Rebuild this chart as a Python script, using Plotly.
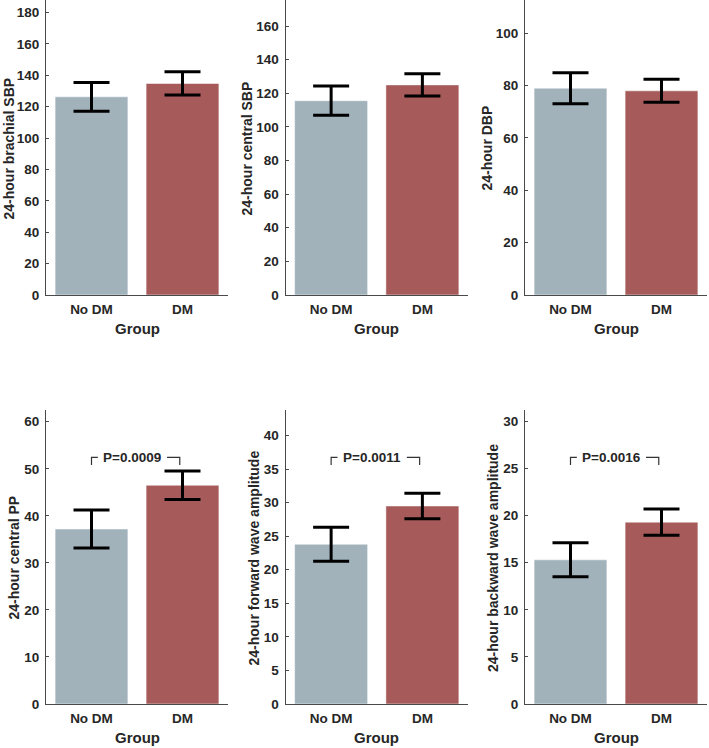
import plotly.graph_objects as go

# ---- data ----
groups = ["No DM", "DM"]
ylabels = ["24-hour brachial SBP", "24-hour central SBP", "24-hour DBP",
           "24-hour central PP", "24-hour forward wave amplitude",
           "24-hour backward wave amplitude"]
means_nodm = [126.3, 115.6, 79.0, 37.2, 23.8, 15.3]
means_dm = [134.8, 125.0, 78.0, 46.5, 29.5, 19.3]
err_nodm = [9.2, 8.7, 5.9, 4.05, 2.55, 1.8]
err_dm = [7.4, 6.6, 4.4, 3.05, 1.9, 1.4]
ymax = [188, 175.5, 112.7, 62.5, 43.8, 31.2]
ytick_step = [20, 20, 20, 10, 5, 5]
pvalues = [None, None, None, "P=0.0009", "P=0.0011", "P=0.0016"]

# ---- styling ----
W, H = 709, 748
col_nodm = "#A1B2BB"
col_dm = "#A65A5A"
txt = "#262626"
FONT = "Liberation Sans, Arial, sans-serif"

# plot-area pixel boxes (left, right, top, bottom)
xboxes = [(46, 228), (285.5, 468), (525, 707)]
yboxes = [(0, 295), (410, 704)]
ytitle_x = [9, 247, 487, 13.5, 253.5, 493]

fig = go.Figure()
annotations = []
shapes = []
for i in range(6):
    r, c = divmod(i, 3)
    xl, xr = xboxes[c]
    yt, yb = yboxes[r]
    sfx = "" if i == 0 else str(i + 1)
    xa, ya = "x" + sfx, "y" + sfx
    fig.add_trace(go.Bar(
        x=groups, y=[means_nodm[i], means_dm[i]],
        marker=dict(color=[col_nodm, col_dm],
                    line=dict(width=1, color="rgba(255,255,255,0.5)")),
        error_y=dict(type="data", array=[err_nodm[i], err_dm[i]],
                     color="black", thickness=3, width=18),
        xaxis=xa, yaxis=ya, showlegend=False, width=0.8,
    ))
    fig.layout["xaxis" + sfx] = dict(
        domain=[xl / W, xr / W], anchor=ya, range=[-0.5, 1.5],
        showline=True, linecolor="#4a4a4a", linewidth=1, ticks="",
        tickfont=dict(family=FONT, size=13.5, color=txt, weight="bold"),
        showgrid=False, zeroline=False, fixedrange=True,
        ticklabelstandoff=2, automargin=False,
    )
    fig.layout["yaxis" + sfx] = dict(
        domain=[1 - yb / H, 1 - yt / H], anchor=xa, range=[0, ymax[i]],
        dtick=ytick_step[i], tick0=0,
        showline=True, linecolor="#4a4a4a", linewidth=1,
        ticks="inside", ticklen=3, tickcolor="#4a4a4a", tickwidth=1,
        tickfont=dict(family=FONT, size=13.5, color=txt, weight="bold"),
        showgrid=False, zeroline=False, fixedrange=True,
        ticklabelstandoff=3, automargin=False,
    )
    annotations.append(dict(
        text="<b>" + ylabels[i] + "</b>", textangle=-90,
        x=ytitle_x[i] / W, y=1 - ((yt + yb) / 2 + 1) / H,
        xref="paper", yref="paper", xanchor="center", yanchor="middle",
        showarrow=False, font=dict(family=FONT, size=14, color=txt)))
    annotations.append(dict(
        text="<b>Group</b>", x=((xl + xr) / 2) / W, y=1 - (yb + 33) / H,
        xref="paper", yref="paper", xanchor="center", yanchor="middle",
        showarrow=False, font=dict(family=FONT, size=15, color=txt)))
    if pvalues[i]:
        top, bot = 0.839, 0.813
        shapes.append(dict(type="path", xref=xa, yref=ya + " domain",
                           path=f"M 0,{bot} L 0,{top} L 0.07,{top}",
                           line=dict(color="#333333", width=1.2)))
        shapes.append(dict(type="path", xref=xa, yref=ya + " domain",
                           path=f"M 0.83,{top} L 0.97,{top} L 0.97,{bot}",
                           line=dict(color="#333333", width=1.2)))
        annotations.append(dict(
            text="<b>" + pvalues[i] + "</b>", x=0.45, y=top,
            xref=xa, yref=ya + " domain", xanchor="center", yanchor="middle",
            showarrow=False, font=dict(family=FONT, size=13.5, color=txt)))

fig.update_layout(
    width=W, height=H, margin=dict(l=0, r=0, t=0, b=0, autoexpand=False),
    paper_bgcolor="white", plot_bgcolor="white",
    annotations=annotations, shapes=shapes, bargap=0.2,
    font=dict(family=FONT, color=txt), hovermode=False,
)
fig.write_html("out.html", config={"displayModeBar": False},
               post_script="document.body.style.margin='0';document.body.style.overflow='hidden';")
